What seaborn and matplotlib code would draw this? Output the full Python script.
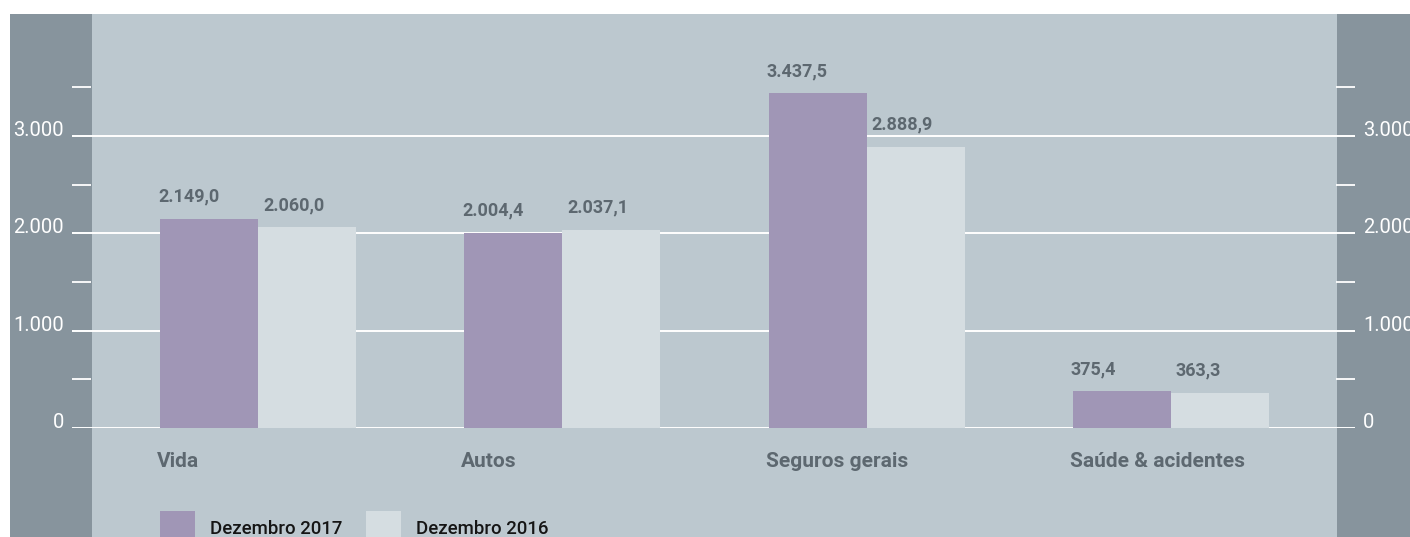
import matplotlib
matplotlib.use("Agg")
import matplotlib.pyplot as plt
from matplotlib.patches import Rectangle
from matplotlib.ticker import FixedLocator
import seaborn as sns
import pandas as pd

# ---- data ----
categories = ["Vida", "Autos", "Seguros gerais", "Saúde & acidentes"]
series = ["Dezembro 2017", "Dezembro 2016"]
values_2017 = [2149.0, 2004.4, 3437.5, 375.4]
values_2016 = [2060.0, 2037.1, 2888.9, 363.3]
major_ticks = [0, 1000, 2000, 3000]
minor_ticks = [500, 1500, 2500, 3500]
tick_labels = ["0", "1.000", "2.000", "3.000"]

# ---- style ----
LIGHT = "#bcc8cf"
DARK = "#87949d"
C2017 = "#a096b6"
C2016 = "#d5dde1"
GREY = "#5d6870"
FONT = ["Roboto", "DejaVu Sans"]

sns.set_theme(style="white")
plt.rcParams["font.family"] = FONT

W, H = 1410, 537
fig = plt.figure(figsize=(W / 100, H / 100), dpi=100)

def px_rect(x0, y0, x1, y1, color, z=-5):
    fig.add_artist(Rectangle((x0 / W, 1 - y1 / H), (x1 - x0) / W, (y1 - y0) / H,
                             transform=fig.transFigure, facecolor=color,
                             edgecolor="none", zorder=z))

px_rect(10, 14, 1410, 537, LIGHT)
px_rect(10, 14, 92, 537, DARK, z=-4)
px_rect(1337, 14, 1410, 537, DARK, z=-4)

# axes: left 72, right 1355, bottom 428 (value 0), top 14
ax_l, ax_r, ax_b, ax_t = 72, 1355, 428, 14
ax = fig.add_axes([ax_l / W, 1 - ax_b / H, (ax_r - ax_l) / W, (ax_b - ax_t) / H])
ax.patch.set_alpha(0)

df = pd.DataFrame({
    "categoria": categories * 2,
    "serie": [series[0]] * len(categories) + [series[1]] * len(categories),
    "valor": values_2017 + values_2016,
})

sns.barplot(data=df, x="categoria", y="valor", hue="serie", order=categories,
            hue_order=series, palette={series[0]: C2017, series[1]: C2016},
            width=0.644, gap=0, saturation=1, legend=False, ax=ax, linewidth=0)

ax.set_xlim(-0.611, 3.605)
ax.set_ylim(0, (ax_b - ax_t) / 0.0974)

for s in ax.spines.values():
    s.set_visible(False)

ax.set_xlabel("")
ax.set_ylabel("")
ax.set_xticks([])

ax.yaxis.set_major_locator(FixedLocator(major_ticks))
ax.yaxis.set_minor_locator(FixedLocator(minor_ticks))
ax.set_yticklabels(tick_labels)
ax.yaxis.grid(True, which="major", color="white", linewidth=1.4)
ax.set_axisbelow(True)
ax.tick_params(axis="y", which="major", length=0, labelleft=True, labelright=True,
               pad=5.8, labelsize=14.5, labelcolor="white")
ax.tick_params(axis="y", which="minor", left=True, right=True, direction="in",
               length=13.7, width=1.3, color="white")
for lab in ax.get_yticklabels(which="major"):
    lab.set_fontweight("normal")
    lab.set_va("baseline")

# value labels
for k, cont in enumerate(ax.containers):
    dx = -2 if k == 0 else 5
    for bar in cont:
        v = bar.get_height()
        txt = f"{v:,.1f}".replace(",", "X").replace(".", ",").replace("X", ".")
        ax.annotate(txt, (bar.get_x(), v), xytext=(dx, 17), textcoords="offset pixels",
                    ha="left", va="baseline", fontsize=13, fontweight="bold",
                    color=GREY)

# category labels
for bar, cat in zip(ax.containers[0], categories):
    ax.annotate(cat, (bar.get_x(), 0), xycoords=ax.get_xaxis_transform(),
                xytext=(-3, -39), textcoords="offset pixels", ha="left",
                va="baseline", fontsize=15, fontweight="bold", color=GREY,
                annotation_clip=False)

# legend
leg_x = [160, 366]
for x0, name, col in zip(leg_x, series, [C2017, C2016]):
    px_rect(x0, 511, x0 + 35, 546, col, z=-3)
    fig.text((x0 + 50) / W, 1 - 534 / H, name, ha="left", va="baseline",
             fontsize=13.4, fontweight="medium", color="#151515")

fig.savefig("out.png", dpi=100)
